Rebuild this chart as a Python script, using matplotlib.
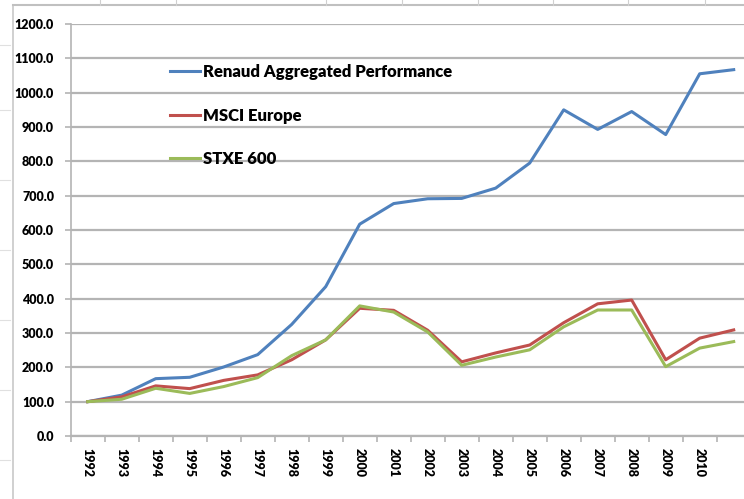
import matplotlib
matplotlib.use("Agg")
import matplotlib.pyplot as plt
from matplotlib.lines import Line2D

# Données (base 100 en 1992)
years = [str(y) for y in range(1992, 2012)]
year_labels = years[:-1] + [""]   # le dernier libellé n'apparaît pas

renaud = [100, 119, 167, 171, 201, 237, 325, 435, 617, 677,
          691, 692, 722, 795, 950, 893, 945, 878, 1055, 1067]
msci = [100, 114, 146, 138, 162, 178, 222, 280, 372, 366,
        308, 216, 242, 265, 330, 385, 396, 222, 285, 309]
stxe = [100, 107, 139, 124, 144, 170, 234, 280, 379, 361,
        303, 206, 230, 251, 318, 367, 367, 202, 256, 275]

y_ticks = list(range(0, 1300, 100))

BLUE = "#4F81BD"
RED = "#C0504D"
GREEN = "#9BBB59"
GRID = "#B4B4B4"

plt.rcParams["font.family"] = ["Lato", "DejaVu Sans"]

W, H = 744, 499
fig = plt.figure(figsize=(W / 100, H / 100), dpi=100)
fig.patch.set_facecolor("white")

# cadre du graphique Excel (bordure gauche + haut, colonnes de la feuille)
fig.add_artist(Line2D([13 / W, 13 / W], [0, 1 - 5 / H], color="#C8C8C8", lw=1.2))
fig.add_artist(Line2D([13 / W, 1], [1 - 5 / H, 1 - 5 / H], color="#C0C0C0", lw=1.5))
for cx in [100, 176, 326, 402, 478, 553, 628, 705]:
    fig.add_artist(Line2D([cx / W, cx / W], [1 - 5 / H, 1], color="#D0D0D0", lw=0.8))
for ry in [45, 110, 180, 250, 320, 390, 460]:
    fig.add_artist(Line2D([0, 10 / W], [1 - ry / H, 1 - ry / H], color="#E0E0E0", lw=0.8))

# axes : un peu coupé à droite comme dans la capture
ax_left, ax_right = 70.7, 70.7 + 34 * 20
ax_top, ax_bottom = 24, 436
ax = fig.add_axes([ax_left / W, 1 - ax_bottom / H,
                   (ax_right - ax_left) / W, (ax_bottom - ax_top) / H])

x = list(range(len(years)))
ax.plot(x, renaud, color=BLUE, lw=2.2, label="Renaud Aggregated Performance", zorder=3)
ax.plot(x, msci, color=RED, lw=2.2, label="MSCI Europe", zorder=3)
ax.plot(x, stxe, color=GREEN, lw=2.2, label="STXE 600", zorder=3)

ax.set_xlim(-0.5, len(years) - 0.5)
ax.set_ylim(0, 1200)
ax.set_yticks(y_ticks)
ax.set_yticklabels([f"{v:.1f}" for v in y_ticks], fontsize=9, fontweight="heavy")
ax.yaxis.grid(True, color=GRID, lw=1.6)
ax.set_axisbelow(True)

ax.set_xticks(x)
ax.set_xticklabels(year_labels, rotation=-90, fontsize=9, fontweight="heavy", va="top")
ax.set_xticks([i - 0.5 for i in range(len(years) + 1)], minor=True)
ax.tick_params(axis="x", which="major", length=0, pad=9)
ax.tick_params(axis="x", which="minor", length=4, color=GRID, width=1.2)
ax.tick_params(axis="y", length=4, color=GRID, width=1.2, pad=8)

for side in ["top", "right"]:
    ax.spines[side].set_visible(False)
ax.spines["left"].set_color(GRID)
ax.spines["bottom"].set_color(GRID)
ax.spines["left"].set_linewidth(1.2)
ax.spines["bottom"].set_linewidth(1.6)

leg = ax.legend(loc="upper left", bbox_to_anchor=(162 / W, 1 - 56 / H),
                bbox_transform=fig.transFigure, frameon=False,
                prop={"size": 12, "weight": "heavy"}, handlelength=1.75,
                handletextpad=0.2, labelspacing=1.65, borderpad=0)

fig.savefig("out.png", dpi=100, facecolor="white")
